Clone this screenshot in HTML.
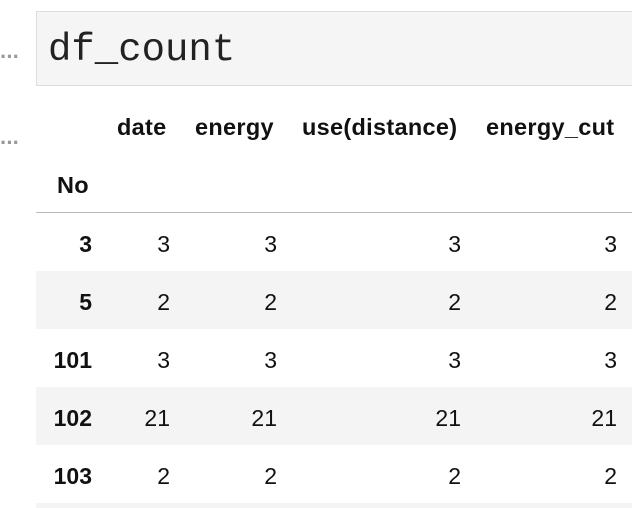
<!DOCTYPE html>
<html><head><meta charset="utf-8">
<style>
html,body{margin:0;width:632px;height:508px;overflow:hidden}
body{background:#fff;font-family:"Liberation Sans","DejaVu Sans",sans-serif;color:#111;position:relative}
.abs{position:absolute}
.code{left:36px;top:11px;width:596px;height:75px;background:#f5f5f5;border:1px solid #ddd;border-right:none;box-sizing:border-box}
.code span{position:absolute;left:11px;top:16px;font-family:"Liberation Mono","DejaVu Sans Mono",monospace;font-size:39px;color:#222}
.dots{left:0;color:#999;font-size:22px;letter-spacing:-1px;font-weight:bold}
.h{font-weight:bold;font-size:23.5px;white-space:nowrap;letter-spacing:0.3px}
.row{left:36px;width:596px;height:58px}
.c{font-size:23px;white-space:nowrap;text-align:right;width:120px}
.idx{font-weight:bold;font-size:23px;text-align:right;width:60px;left:32px}
</style></head><body>
<div class="abs dots" style="top:44px">···</div>
<div class="abs dots" style="top:130px">···</div>
<div class="abs code"><span>df_count</span></div>
<div>
<div class="abs h" style="left:117px;top:114px">date</div>
<div class="abs h" style="left:195px;top:114px">energy</div>
<div class="abs h" style="left:302px;top:114px">use(distance)</div>
<div class="abs h" style="left:486px;top:114px">energy_cut</div>
<div class="abs h" style="left:57px;top:172px">No</div>
<div class="abs" style="left:36px;top:212px;width:596px;height:1px;background:#bbb"></div>
</div>
<script>
const idx=["3","5","101","102","103"];
const dateV=[3,2,3,21,2];
const energyV=[3,2,3,21,2];
const useV=[3,2,3,21,2];
const cutV=[3,2,3,21,2];
const rights=[170,277,461,617];
for(let i=0;i<idx.length+1;i++){
  const top=213+i*58;
  const r=document.createElement('div');
  r.className='abs row';
  r.style.top=top+'px';
  r.style.height=Math.min(58,508-top)+'px';
  r.style.background=i%2?'#f4f4f4':'#fff';
  
  
  document.body.appendChild(r);
  if(i>=idx.length)continue;
  const ix=document.createElement('div');
  ix.className='abs idx';ix.style.top=(top+18)+'px';ix.textContent=idx[i];
  
  
  document.body.appendChild(ix);
  [dateV,energyV,useV,cutV].forEach((arr,j)=>{
    const c=document.createElement('div');
    c.className='abs c';c.style.top=(top+18)+'px';c.style.left=(rights[j]-120)+'px';
    c.textContent=arr[i];
    
    
    document.body.appendChild(c);
  });
}
</script>
</body></html>
